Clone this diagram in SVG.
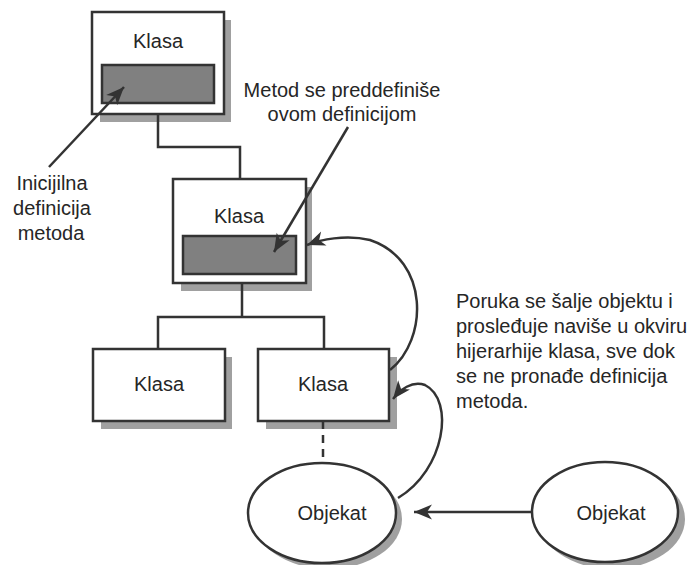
<svg xmlns="http://www.w3.org/2000/svg" width="696" height="565" viewBox="0 0 696 565">
<defs>
<style>
.bg{fill:#ffffff}
.shadow{fill:#a0a0a0;stroke:none}
.box{fill:#ffffff;stroke:#333333;stroke-width:2.5}
.method{fill:#808080;stroke:#333333;stroke-width:2.5}
.obj{fill:#ffffff;stroke:#333333;stroke-width:2.5}
.t{font-family:"Liberation Sans",Arial,sans-serif;font-size:20px;fill:#262626}
.c{text-anchor:middle}
.link{fill:none;stroke:#333333;stroke-width:2.5}
.dash{fill:none;stroke:#333333;stroke-width:2.5;stroke-dasharray:8,6}
.arrow{fill:none;stroke:#333333;stroke-width:2.5;marker-end:url(#head)}
</style>
<marker id="head" viewBox="-19 -8 20 16" refX="0" refY="0" markerWidth="20" markerHeight="16" markerUnits="userSpaceOnUse" orient="auto">
<path d="M0,0 L-18,-7.5 L-13,0 L-18,7.5 Z" fill="#333333"/>
</marker>
</defs>
<rect class="bg" x="0" y="0" width="696" height="565"/>

<g id="klasa-top">
<rect class="shadow" x="100" y="20" width="131" height="102"/>
<rect class="box" x="92" y="12" width="132" height="102"/>
<text class="t c" x="158" y="48">Klasa</text>
<rect class="method" x="102" y="65" width="112" height="38"/>
</g>

<g id="klasa-middle">
<rect class="shadow" x="181" y="187" width="131" height="104"/>
<rect class="box" x="173" y="179" width="133" height="104"/>
<text class="t c" x="239" y="223">Klasa</text>
<rect class="method" x="183" y="236" width="113" height="38"/>
</g>

<g id="klasa-left">
<rect class="shadow" x="101" y="357" width="131" height="72"/>
<rect class="box" x="93" y="349" width="132" height="72"/>
<text class="t c" x="159" y="391">Klasa</text>
</g>

<g id="klasa-right">
<rect class="shadow" x="266" y="357" width="131" height="72"/>
<rect class="box" x="258" y="349" width="131" height="72"/>
<text class="t c" x="323" y="391">Klasa</text>
</g>

<g id="objekat-left">
<ellipse class="shadow" cx="328" cy="519" rx="74" ry="50"/>
<ellipse class="obj" cx="322" cy="513" rx="74" ry="50"/>
<text class="t c" x="332" y="520">Objekat</text>
</g>

<g id="objekat-right">
<ellipse class="shadow" cx="612" cy="519" rx="73" ry="50"/>
<ellipse class="obj" cx="605" cy="512" rx="73" ry="50"/>
<text class="t c" x="611" y="520">Objekat</text>
</g>

<g id="label-initial">
<text class="t c" x="52" y="190">Inicijilna</text>
<text class="t c" x="52" y="215">definicija</text>
<text class="t c" x="51" y="240">metoda</text>
</g>

<g id="label-override">
<text class="t c" x="342" y="97">Metod se preddefiniše</text>
<text class="t c" x="342" y="121">ovom definicijom</text>
</g>

<g id="label-message">
<text class="t" x="456" y="308">Poruka se šalje objektu i</text>
<text class="t" x="456" y="333">prosleđuje naviše u okviru</text>
<text class="t" x="456" y="358">hijerarhije klasa, sve dok</text>
<text class="t" x="456" y="383">se ne pronađe definicija</text>
<text class="t" x="456" y="408">metoda.</text>
</g>

<g id="connectors">
<path class="link" d="M158,114 V147 H240 V179"/>
<path class="link" d="M242,283 V317 H158 V349 M242,317 H324 V349"/>
<path class="dash" d="M323,421 V463"/>
<path class="arrow" d="M49,167 L124,87"/>
<path class="arrow" d="M348,127 L274,252"/>
<path class="arrow" d="M390,370 C428,340 430,260 370,240 C345,234 320,240 307,245"/>
<path class="arrow" d="M398,498 C445,470 455,400 425,385 C412,380 400,390 393,399"/>
<path class="arrow" d="M532,512 L414,512"/>
</g>
</svg>
